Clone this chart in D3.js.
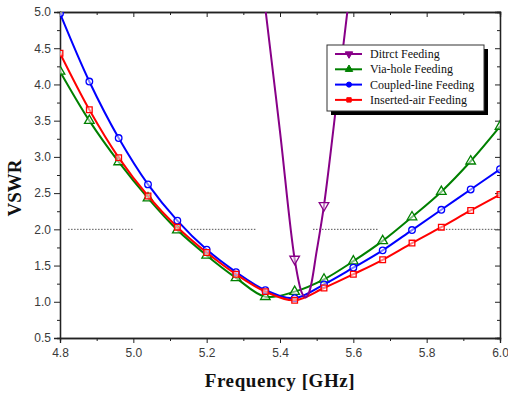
<!DOCTYPE html>
<html>
<head>
<meta charset="utf-8">
<script src="https://cdn.jsdelivr.net/npm/d3@7"></script>
<style>
body { margin: 0; background: #fff; }
svg { display: block; }
.tick text { font-family: Arial, "Liberation Sans", sans-serif; font-size: 12px; fill: #3a3a3a; }
</style>
</head>
<body>
<div id="chart"></div>
<script>

// marker frequencies (GHz), shared by the three smooth curves
var freq = [4.80, 4.88, 4.96, 5.04, 5.12, 5.20, 5.28, 5.36, 5.44, 5.52, 5.60, 5.68, 5.76, 5.84, 5.92, 6.00];

var viaHole     = [4.18, 3.50, 2.93, 2.43, 1.99, 1.64, 1.33, 1.07, 1.14, 1.31, 1.56, 1.84, 2.17, 2.52, 2.94, 3.42];
var coupledLine = [4.98, 4.04, 3.26, 2.62, 2.12, 1.72, 1.41, 1.16, 1.05, 1.24, 1.47, 1.71, 1.99, 2.27, 2.55, 2.83];
var insertedAir = [4.43, 3.65, 2.99, 2.46, 2.03, 1.68, 1.38, 1.14, 1.02, 1.19, 1.38, 1.58, 1.81, 2.03, 2.26, 2.48];

// direct feeding: narrow dip, most of it above the plot
var directFreq = [5.33, 5.36, 5.40, 5.44, 5.46, 5.47, 5.48, 5.50, 5.52, 5.56, 5.60];
var directVswr = [6.3, 5.05, 3.35, 1.59, 1.12, 1.06, 1.14, 1.70, 2.33, 4.00, 5.70];

// dotted VSWR = 2 reference, drawn as broken pieces
var refLevel = 2.0;
var refPieces = [[4.822, 5.0], [5.157, 5.335], [5.49, 5.67], [5.836, 5.995]];

var legendNames = ['Ditrct Feeding', 'Via-hole Feeding', 'Coupled-line Feeding', 'Inserted-air Feeding'];

var width = 508, height = 393;
var margin = { top: 12, right: 8, bottom: 55, left: 60 };
var w = width - margin.left - margin.right,
    h = height - margin.top - margin.bottom;

var svg = d3.select('#chart').append('svg')
  .attr('width', width)
  .attr('height', height);

var g = svg.append('g').attr('transform', 'translate(' + margin.left + ',' + margin.top + ')');

var x = d3.scaleLinear().domain([4.8, 6.0]).range([0, w]);
var y = d3.scaleLinear().domain([0.5, 5.0]).range([h, 0]);

g.append('defs').append('clipPath').attr('id', 'clip')
  .append('rect').attr('width', w).attr('height', h);

// axes: major + minor ticks
var xMajor = d3.range(4.8, 6.001, 0.2), xMinor = d3.range(4.9, 6.0, 0.2);
var yMajor = d3.range(0.5, 5.001, 0.5), yMinor = d3.range(0.75, 5.0, 0.5);

g.append('g').attr('transform', 'translate(0,' + h + ')')
  .call(d3.axisBottom(x).tickValues(xMajor).tickFormat(d3.format('.1f')).tickSize(5).tickPadding(5));
g.append('g').attr('transform', 'translate(0,' + h + ')')
  .call(d3.axisBottom(x).tickValues(xMinor).tickFormat('').tickSize(3));
g.append('g')
  .call(d3.axisTop(x).tickValues(xMajor).tickFormat('').tickSize(-5));
g.append('g')
  .call(d3.axisTop(x).tickValues(xMinor).tickFormat('').tickSize(-3));

g.append('g')
  .call(d3.axisLeft(y).tickValues(yMajor).tickFormat(d3.format('.1f')).tickSize(6).tickPadding(3));
g.append('g')
  .call(d3.axisLeft(y).tickValues(yMinor).tickFormat('').tickSize(3));
g.append('g').attr('transform', 'translate(' + w + ',0)')
  .call(d3.axisRight(y).tickValues(yMajor).tickFormat('').tickSize(-5));
g.append('g').attr('transform', 'translate(' + w + ',0)')
  .call(d3.axisRight(y).tickValues(yMinor).tickFormat('').tickSize(-3));

g.selectAll('.domain').attr('stroke', '#222').attr('stroke-width', 1.3);
g.selectAll('.tick line').attr('stroke', '#222');

// reference line
g.append('g').selectAll('line')
  .data(refPieces)
  .enter().append('line')
  .attr('x1', function(d) { return x(d[0]); })
  .attr('x2', function(d) { return x(d[1]); })
  .attr('y1', y(refLevel))
  .attr('y2', y(refLevel))
  .attr('stroke', '#555')
  .attr('stroke-width', 1)
  .attr('stroke-dasharray', '1.5,1.5');

var line = d3.line()
  .x(function(d) { return x(d[0]); })
  .y(function(d) { return y(d[1]); })
  .curve(d3.curveCatmullRom.alpha(0.5));

var series = [
  { name: legendNames[1], color: '#008000', shape: 'tri',  pts: d3.zip(freq, viaHole) },
  { name: legendNames[2], color: '#0000ff', shape: 'circ', pts: d3.zip(freq, coupledLine) },
  { name: legendNames[3], color: '#ff0000', shape: 'sq',   pts: d3.zip(freq, insertedAir) },
  { name: legendNames[0], color: '#880088', shape: 'down', pts: d3.zip(directFreq, directVswr) }
];

function markerPath(shape, size) {
  size = size || 1;
  if (shape === 'tri' || shape === 'down') return d3.symbol().type(d3.symbolTriangle).size(40 * size)();
  if (shape === 'circ') return d3.symbol().type(d3.symbolCircle).size(34 * size)();
  return d3.symbol().type(d3.symbolSquare).size(32 * size)();
}

var plot = g.append('g').attr('clip-path', 'url(#clip)');

series.forEach(function(s) {
  plot.append('path')
    .datum(s.pts)
    .attr('d', line)
    .attr('fill', 'none')
    .attr('stroke', s.color)
    .attr('stroke-width', 2);

  // markers only on the 0.08 GHz grid
  var marks = s.pts.filter(function(d) {
    var k = (d[0] - 4.8) / 0.08;
    return Math.abs(k - Math.round(k)) < 1e-6 && d[1] <= 5.0;
  });

  plot.append('g').selectAll('path')
    .data(marks)
    .enter().append('path')
    .attr('d', markerPath(s.shape))
    .attr('transform', function(d) {
      return 'translate(' + x(d[0]) + ',' + y(d[1]) + ')' + (s.shape === 'down' ? ' rotate(180)' : '');
    })
    .attr('fill', '#fff')
    .attr('fill-opacity', 0.5)
    .attr('stroke', s.color)
    .attr('stroke-width', 1.3);
});

// legend
var lx = 327 - margin.left, ly = 45 - margin.top, lw = 157, lh = 66;
var legend = g.append('g').attr('transform', 'translate(' + lx + ',' + ly + ')');
legend.append('rect')
  .attr('x', 4).attr('y', 4).attr('width', lw).attr('height', lh)
  .attr('fill', '#000');
legend.append('rect')
  .attr('width', lw).attr('height', lh)
  .attr('fill', '#fff').attr('stroke', '#333').attr('stroke-width', 1);

var legendOrder = [series[3], series[0], series[1], series[2]];
var rows = legend.selectAll('.row')
  .data(legendOrder)
  .enter().append('g')
  .attr('transform', function(d, i) { return 'translate(0,' + (9 + i * 15.3) + ')'; });

rows.append('line')
  .attr('x1', 8).attr('x2', 35)
  .attr('stroke', function(d) { return d.color; })
  .attr('stroke-width', 2);
rows.append('path')
  .attr('d', function(d) { return markerPath(d.shape, 0.6); })
  .attr('transform', function(d) { return 'translate(22,0)' + (d.shape === 'down' ? ' rotate(180)' : ''); })
  .attr('fill', function(d) { return d.color; })
  .attr('stroke', function(d) { return d.color; })
  .attr('stroke-width', 1);
rows.append('text')
  .attr('x', 43).attr('y', 4)
  .style('font-family', '"Liberation Serif", "Times New Roman", serif')
  .style('font-size', '12px')
  .attr('fill', '#111')
  .text(function(d) { return d.name; });

// axis titles
svg.append('text')
  .attr('x', margin.left + w / 2)
  .attr('y', 387)
  .attr('text-anchor', 'middle')
  .style('font-family', '"Liberation Serif", "Times New Roman", serif')
  .style('font-weight', 'bold')
  .style('font-size', '19px')
  .style('letter-spacing', '0.6px')
  .attr('fill', '#111')
  .text('Frequency [GHz]');

svg.append('text')
  .attr('transform', 'translate(21,' + 188 + ') rotate(-90)')
  .attr('text-anchor', 'middle')
  .style('font-family', '"Liberation Serif", "Times New Roman", serif')
  .style('font-weight', 'bold')
  .style('font-size', '19px')
  .attr('fill', '#111')
  .text('VSWR');

</script>
</body>
</html>
